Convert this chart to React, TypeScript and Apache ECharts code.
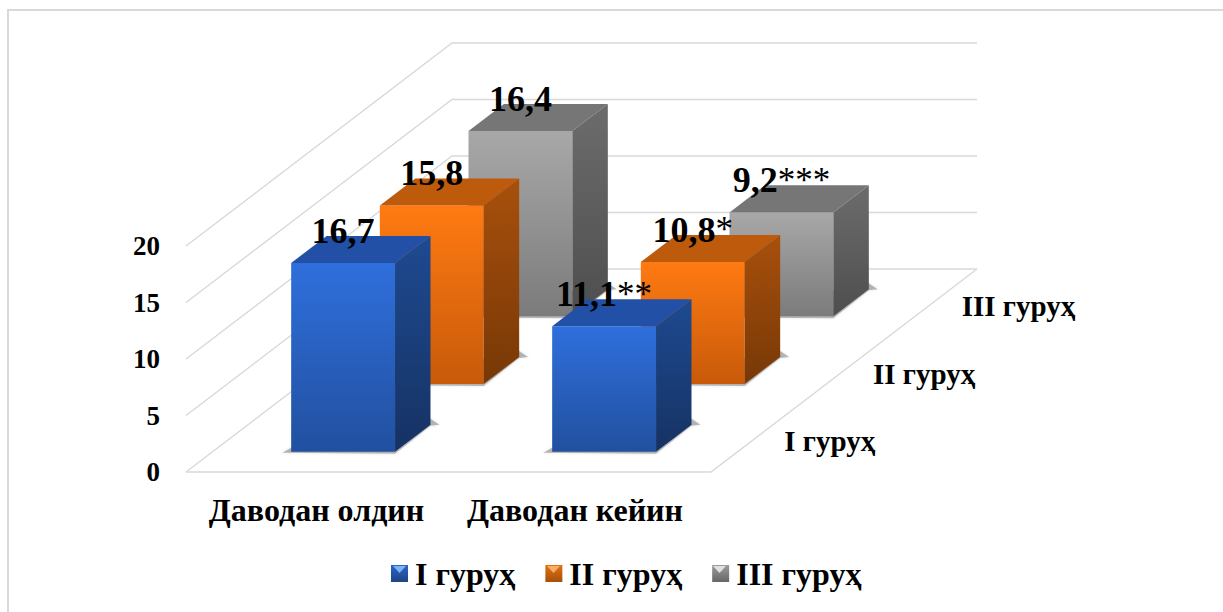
import React, { useEffect, useRef } from "react";
import * as echarts from "echarts";

const categories = ["Даводан олдин", "Даводан кейин"];
const groupNames = ["I гуруҳ", "II гуруҳ", "III гуруҳ"];
const valuesI = [16.7, 11.1];
const valuesII = [15.8, 10.8];
const valuesIII = [16.4, 9.2];
const labelsI = ["16,7", "11,1**"];
const labelsII = ["15,8", "10,8*"];
const labelsIII = ["16,4", "9,2***"];
const ticks = [0, 5, 10, 15, 20];

const FONT = '"Liberation Serif", "Times New Roman", serif';
const DX = 266;
const DY = 203;
const OVERHANG = 3;
const GRID_COLOR = "#d9d9d9";

const lin = (a: string, b: string) =>
  new echarts.graphic.LinearGradient(0, 0, 0, 1, [
    { offset: 0, color: a },
    { offset: 1, color: b },
  ]);

const palette = [
  { front: ["#2f6fdc", "#21509f"], top: "#2150a6", side: ["#1e4a90", "#163264"], legend: ["#2a66c8", "#1e4585"], tri: "#7fb2f2" },
  { front: ["#ff7a12", "#c85a0a"], top: "#bd5a0b", side: ["#a8500c", "#773806"], legend: ["#e2720f", "#a4500c"], tri: "#f8ae62" },
  { front: ["#a8a8a8", "#7b7b7b"], top: "#767676", side: ["#6c6c6c", "#4e4e4e"], legend: ["#9c9c9c", "#666666"], tri: "#e0e0e0" },
];

const barRenderer = (k: number, labels: string[]) => (params: any, api: any) => {
  const i = api.value(0);
  const v = api.value(1);
  const base = api.coord([i, 0]);
  const head = api.coord([i, v]);
  const catW = api.size([1, 0])[0];
  const w = catW * 0.398;
  const fs = (k + 0.3) / 3;
  const fe = (k + 0.7) / 3;
  const x0 = base[0] - w / 2 + DX * fs;
  const x1 = x0 + w;
  const yb = base[1] - DY * fs;
  const yt = head[1] - DY * fs;
  const dx = DX * (fe - fs);
  const dy = DY * (fe - fs);
  const c = palette[k];
  const m = /^([^*]*)(\**)$/.exec(labels[params.dataIndex]) as RegExpExecArray;
  const text = m[2] ? `{n|${m[1]}}{s|${m[2]}}` : `{n|${m[1]}}`;
  return {
    type: "group",
    children: [
      {
        type: "polygon",
        shape: {
          points: [
            [x0 - 9, yb + 1],
            [x1, yb + 2],
            [x1 + dx, yb - dy + 1],
            [x1 + dx + 9, yb - dy],
            [x1 + dx, yb - dy - 6],
            [x0, yb - 4],
          ],
        },
        style: { fill: "rgba(90,90,90,0.4)", shadowBlur: 3, shadowColor: "rgba(0,0,0,0.25)" },
      },
      { type: "rect", shape: { x: x0, y: yt, width: w, height: yb - yt }, style: { fill: lin(c.front[0], c.front[1]) } },
      {
        type: "polygon",
        shape: { points: [[x0, yt], [x1, yt], [x1 + dx, yt - dy], [x0 + dx, yt - dy]] },
        style: { fill: c.top },
      },
      {
        type: "polygon",
        shape: { points: [[x1, yt], [x1 + dx, yt - dy], [x1 + dx, yb - dy], [x1, yb]] },
        style: { fill: lin(c.side[0], c.side[1]) },
      },
      {
        type: "text",
        style: {
          x: x0 + w / 2,
          y: yt - 32,
          text,
          align: "center",
          verticalAlign: "middle",
          fill: "#000",
          fontFamily: FONT,
          fontSize: 36,
          fontWeight: "bold",
          rich: {
            n: { fontFamily: FONT, fontSize: 36, fontWeight: "bold", fill: "#000" },
            s: { fontFamily: FONT, fontSize: 35, fontWeight: "normal", fill: "#000" },
          },
        },
      },
    ],
  };
};

const wallRenderer = (params: any, api: any) => {
  const cs = params.coordSys;
  const y = api.coord([0, api.value(1)])[1];
  const xr = cs.x + cs.width + OVERHANG;
  const stroke = { stroke: GRID_COLOR, lineWidth: 1.4, fill: "none" };
  const children: any[] = [
    {
      type: "polyline",
      shape: { points: [[cs.x, y], [cs.x + DX, y - DY], [xr + DX, y - DY]] },
      style: stroke,
    },
  ];
  if (params.dataIndex === 0) {
    children.push({
      type: "polyline",
      shape: { points: [[cs.x, y], [xr, y], [xr + DX, y - DY]] },
      style: stroke,
    });
  }
  return { type: "group", children };
};

const depthLabelRenderer = (params: any, api: any) => {
  const cs = params.coordSys;
  const y0 = api.coord([0, 0])[1];
  const f = (params.dataIndex + 0.5) / 3;
  return {
    type: "text",
    style: {
      x: cs.x + cs.width + OVERHANG + DX * f + 29,
      y: y0 - DY * f + 3,
      text: groupNames[params.dataIndex],
      align: "left",
      verticalAlign: "middle",
      fill: "#000",
      fontFamily: FONT,
      fontSize: 29,
      fontWeight: "bold",
    },
  };
};

const barSeries = (k: number, values: number[], labels: string[]) => ({
  name: groupNames[k],
  type: "custom",
  coordinateSystem: "cartesian2d",
  renderItem: barRenderer(k, labels),
  data: values.map((v, i) => [i, v]),
  encode: { x: 0, y: 1 },
  itemStyle: { color: lin(palette[k].legend[0], palette[k].legend[1]) },
  silent: true,
});

export default function App() {
  const ref = useRef<HTMLDivElement>(null);
  useEffect(() => {
    const chart = echarts.init(ref.current as HTMLDivElement, undefined, { renderer: "svg" });
    const legendX = [391, 545, 711];
    chart.setOption({
      animation: false,
      backgroundColor: "#fff",
      grid: { left: 186, top: 246, width: 522, height: 226, containLabel: false },
      xAxis: {
        type: "category",
        data: [
          { value: categories[0], textStyle: { padding: [0, 0, 0, 0] } },
          { value: categories[1], textStyle: { padding: [0, 5, 0, 0] } },
        ],
        axisLine: { show: false },
        axisTick: { show: false },
        splitLine: { show: false },
        axisLabel: { margin: 22, interval: 0, color: "#000", fontFamily: FONT, fontWeight: "bold", fontSize: 32 },
      },
      yAxis: {
        type: "value",
        min: 0,
        max: 20,
        interval: 5,
        axisLine: { show: false },
        axisTick: { show: false },
        splitLine: { show: false },
        axisLabel: { margin: 26, color: "#000", fontFamily: FONT, fontWeight: "bold", fontSize: 27 },
      },
      legend: {
        left: 391,
        top: 556,
        padding: 0,
        data: groupNames,
        icon: "rect",
        itemWidth: 17,
        itemHeight: 17,
        itemGap: 30,
        selectedMode: false,
        textStyle: { color: "#000", fontFamily: FONT, fontWeight: "bold", fontSize: 32, lineHeight: 35, padding: [0, 0, 0, 2] },
      },
      graphic: [
        {
          type: "polyline",
          shape: { points: [[8, 612], [8, 10], [1223, 10]] },
          style: { stroke: GRID_COLOR, lineWidth: 2, fill: "none" },
          silent: true,
        },
        ...legendX.map((x, k) => ({
          type: "polygon",
          z: 200,
          shape: { points: [[x + 2, 566], [x + 15, 566], [x + 8.5, 573]] },
          style: { fill: palette[k].tri },
          silent: true,
        })),
      ],
      series: [
        {
          name: "walls",
          type: "custom",
          renderItem: wallRenderer,
          data: ticks.map((t) => [0, t]),
          encode: { x: 0, y: 1 },
          silent: true,
        },
        {
          name: "depth",
          type: "custom",
          renderItem: depthLabelRenderer,
          data: groupNames.map(() => [0, 0]),
          encode: { x: 0, y: 1 },
          silent: true,
        },
        barSeries(2, valuesIII, labelsIII),
        barSeries(1, valuesII, labelsII),
        barSeries(0, valuesI, labelsI),
      ],
    });
    return () => chart.dispose();
  }, []);
  return <div ref={ref} style={{ position: "fixed", left: 0, top: 0, width: 1223, height: 612 }} />;
}
